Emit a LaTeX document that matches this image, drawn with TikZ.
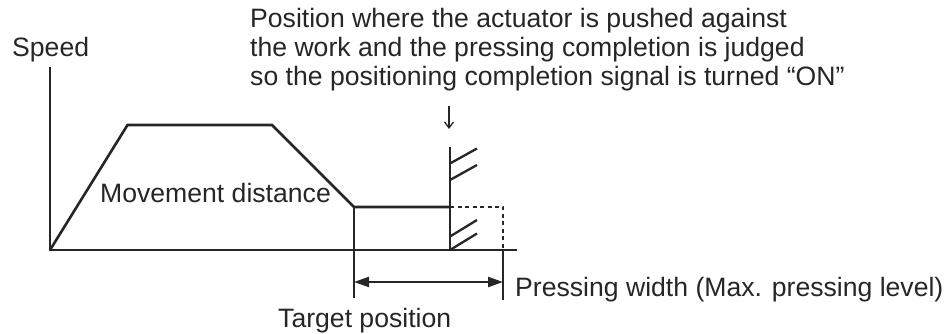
\documentclass[tikz,border=0pt]{standalone}
\usepackage{fontspec}
\setmainfont{Liberation Sans}
\usetikzlibrary{arrows.meta}
\begin{document}
\begin{tikzpicture}[x=1pt,y=-1pt,
  lbl/.style={anchor=base west,inner sep=0pt,font=\fontsize{26.6}{28.5}\selectfont,text=black!85},
  curve/.style={line width=2.6pt,black!85,line join=miter},
  hatch/.style={line width=2.3pt,black!85},
  dim/.style={line width=2.2pt,black!85,{Triangle[length=15pt,width=10pt]}-{Triangle[length=15pt,width=10pt]}}]
\useasboundingbox (0,0) rectangle (946,334);
% coordinates
\coordinate (O) at (50,250);
\coordinate (Ytop) at (50,66.7);
\coordinate (Xend) at (517,250);
\coordinate (A) at (127.5,125);
\coordinate (B) at (272,125);
\coordinate (C) at (354,207);
\coordinate (D) at (450,207);
\coordinate (E) at (503,207);
\coordinate (W0) at (450,147);
\coordinate (W1) at (450,250);
\coordinate (T1) at (354,298);
\coordinate (P0) at (503,250);
\coordinate (P1) at (503,300);
\coordinate (L) at (354,282);
\coordinate (R) at (503,282);
\coordinate (a0) at (449,106);
\coordinate (a1) at (449,129);
% axes
\draw[curve] (Ytop) -- (O) -- (Xend);
% speed profile
\draw[curve] (O) -- (A) -- (B) -- (C) -- (D);
\draw[curve] (C) -- (T1);
% pressing extension (dotted)
\draw[line width=2.3pt,black!85,dash pattern=on 4pt off 3.5pt] (D) -- (E) -- (P0);
\draw[curve] (P0) -- (P1);
% wall
\draw[curve] (W0) -- (W1);
\draw[hatch] (450,163.5) -- (477,148.5);
\draw[hatch] (450,180) -- (477,165);
\draw[hatch] (450,236.5) -- (477,220);
\draw[hatch] (450,250) -- (477,233.5);
% dimension
\draw[dim] (L) -- (R);
% small arrow to the wall
\draw[line width=1.3pt,black!85,-{Straight Barb[length=6pt,width=9pt,line width=1.3pt]}] (a0) -- (a1);
% labels
\node[lbl] (speed) at (12,57) {Speed};
\node[lbl] (pos1) at (250,28) {Position where the actuator is pushed against};
\node[lbl] (pos2) at (250,57) {the work and the pressing completion is judged};
\node[lbl] (pos3) at (250,85.5) {so the positioning completion signal is turned “ON”};
\node[lbl] (move) at (100,203) {Movement distance};
\node[lbl] (pw) at (515,296) {Pressing width (Max. pressing level)};
\node[lbl] (tp) at (278,327) {Target position};
\end{tikzpicture}
\end{document}
